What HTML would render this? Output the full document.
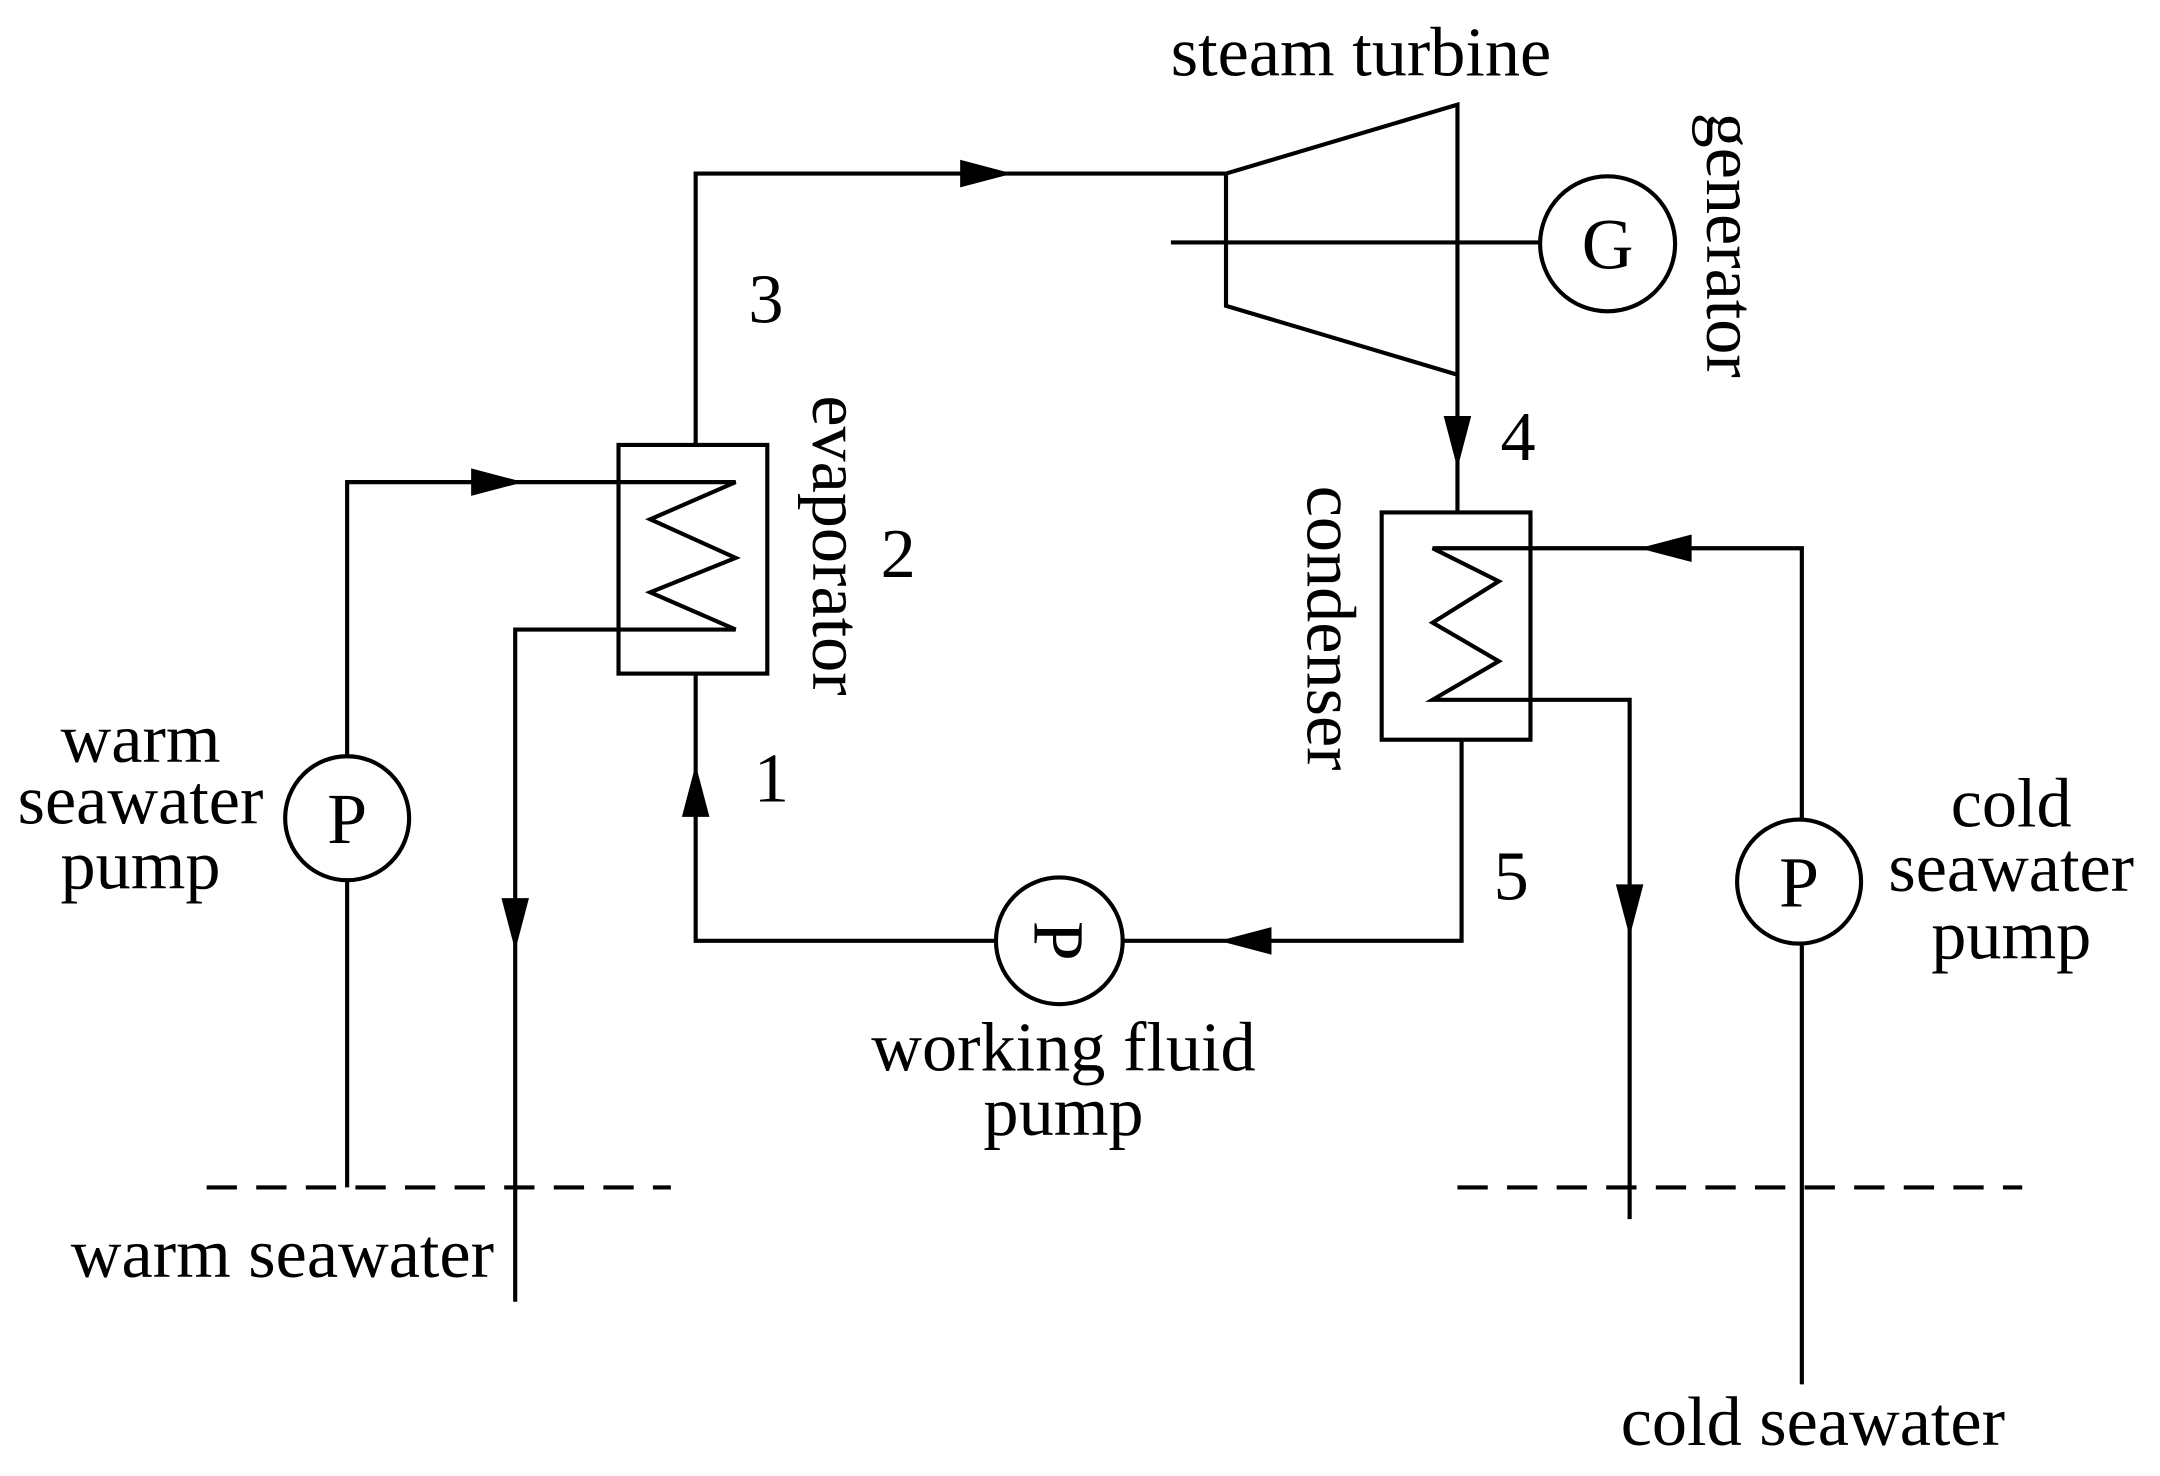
<!DOCTYPE html>
<html><head><meta charset="utf-8"><style>html,body{margin:0;padding:0;background:#fff}svg{display:block}</style></head>
<body>
<svg width="2160" height="1476" viewBox="0 0 1568 1071.5" preserveAspectRatio="none" xmlns="http://www.w3.org/2000/svg">
<g fill="none" stroke="#000" stroke-width="3">
<polyline points="505,322 505,126 890,126"/>
<polygon points="890,126 1058,76 1058,272 890,222"/>
<line x1="850" y1="176" x2="1118" y2="176"/>
<circle cx="1167" cy="177" r="49"/>
<line x1="1058" y1="272" x2="1058" y2="372"/>
<rect x="1003" y="372" width="108" height="165"/>
<polyline points="1308,1005 1308,398 1040,398 1088,422 1040,452 1088,480 1040,508 1183,508 1183,885"/>
<circle cx="1306" cy="640" r="45" fill="#fff"/>
<polyline points="1061,537 1061,683 505,683 505,489"/>
<circle cx="769" cy="683" r="46" fill="#fff"/>
<rect x="449" y="323" width="108" height="166"/>
<polyline points="252,862 252,350 534,350 472,377 534,405 472,430 534,457 374,457 374,945"/>
<circle cx="252" cy="594" r="45" fill="#fff"/>
<line x1="150" y1="862" x2="487" y2="862" stroke-dasharray="22,14"/>
<line x1="1058" y1="862" x2="1468" y2="862" stroke-dasharray="22,14"/>
</g>
<g fill="#000">
<polygon points="735,126 697,116 697,136"/>
<polygon points="1058,340 1048,302 1068,302"/>
<polygon points="1190,398 1228,388 1228,408"/>
<polygon points="1183,680 1173,642 1193,642"/>
<polygon points="885,683 923,673 923,693"/>
<polygon points="505,555 495,593 515,593"/>
<polygon points="380,350 342,340 342,360"/>
<polygon points="374,690 364,652 384,652"/>
</g>
<g font-family="Liberation Serif, serif" font-size="51" fill="#000">
<text x="988" y="55" text-anchor="middle">steam turbine</text>
<text x="1167" y="195" text-anchor="middle" font-size="52">G</text>
<text x="252" y="612" text-anchor="middle" font-size="52">P</text>
<text x="1306" y="658" text-anchor="middle" font-size="52">P</text>
<text transform="translate(751,683) rotate(90)" text-anchor="middle" font-size="52">P</text>
<text transform="translate(1239,178) rotate(90)" text-anchor="middle">generator</text>
<text transform="translate(590,396) rotate(90)" text-anchor="middle">evaporator</text>
<text transform="translate(949,456) rotate(90)" text-anchor="middle">condenser</text>
<text x="556" y="234" text-anchor="middle">3</text>
<text x="652" y="419" text-anchor="middle">2</text>
<text x="560" y="582" text-anchor="middle">1</text>
<text x="1102" y="334" text-anchor="middle">4</text>
<text x="1097" y="653" text-anchor="middle">5</text>
<text x="102" y="553" text-anchor="middle">warm</text>
<text x="102" y="598" text-anchor="middle">seawater</text>
<text x="102" y="645" text-anchor="middle">pump</text>
<text x="1460" y="600" text-anchor="middle">cold</text>
<text x="1460" y="647" text-anchor="middle">seawater</text>
<text x="1460" y="696" text-anchor="middle">pump</text>
<text x="772" y="777" text-anchor="middle">working fluid</text>
<text x="772" y="824" text-anchor="middle">pump</text>
<text x="205" y="927" text-anchor="middle">warm seawater</text>
<text x="1316" y="1049" text-anchor="middle">cold seawater</text>
</g>
</svg>
</body></html>
